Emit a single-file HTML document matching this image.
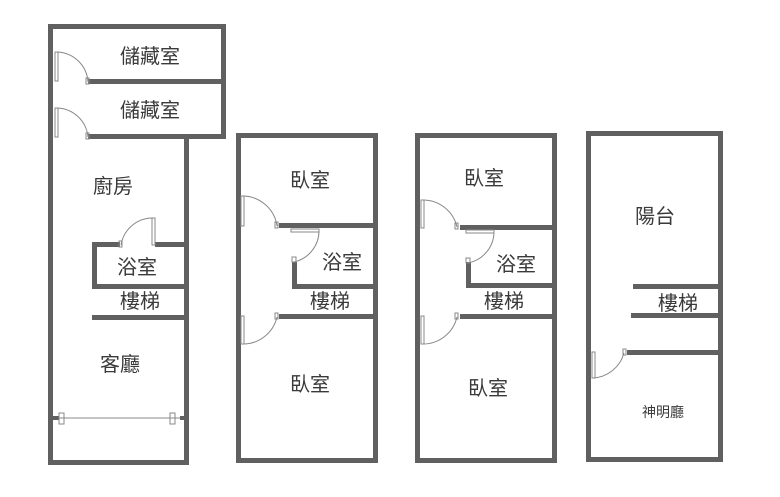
<!DOCTYPE html>
<html><head><meta charset="utf-8"><style>
html,body{margin:0;padding:0;background:#fff;}
svg{display:block}
text{font-family:"Liberation Sans","Noto Sans CJK TC",sans-serif;fill:#3a3a3a;}
</style></head><body>
<svg width="780" height="497" viewBox="0 0 780 497" xmlns="http://www.w3.org/2000/svg">
<g fill="#606060">
<rect x="48" y="24" width="178" height="5"/>
<rect x="48" y="24" width="5" height="441"/>
<rect x="221" y="24" width="5" height="115"/>
<rect x="88" y="79" width="138" height="5"/>
<rect x="88" y="134" width="138" height="5"/>
<rect x="184" y="134" width="5" height="331"/>
<rect x="48" y="460" width="141" height="5"/>
<rect x="92" y="242" width="28" height="5"/>
<rect x="155" y="242" width="34" height="5"/>
<rect x="92" y="242" width="5" height="47"/>
<rect x="92" y="284" width="97" height="5"/>
<rect x="92" y="315" width="97" height="5"/>
<rect x="53" y="416" width="6" height="4"/>
<rect x="180" y="416" width="6" height="4"/>
<rect x="236" y="133" width="142" height="5"/>
<rect x="236" y="133" width="5" height="330"/>
<rect x="373" y="133" width="5" height="330"/>
<rect x="236" y="458" width="142" height="5"/>
<rect x="279" y="223" width="99" height="5"/>
<rect x="292" y="262" width="5" height="27"/>
<rect x="292" y="284" width="86" height="5"/>
<rect x="279" y="314" width="99" height="5"/>
<rect x="415" y="133" width="142" height="5"/>
<rect x="415" y="133" width="5" height="330"/>
<rect x="552" y="133" width="5" height="330"/>
<rect x="415" y="458" width="142" height="5"/>
<rect x="460" y="225" width="97" height="5"/>
<rect x="466" y="262" width="5" height="24"/>
<rect x="466" y="283" width="91" height="5"/>
<rect x="460" y="314" width="97" height="5"/>
<rect x="586" y="131" width="137" height="5"/>
<rect x="586" y="131" width="5" height="331"/>
<rect x="718" y="131" width="5" height="331"/>
<rect x="586" y="457" width="137" height="5"/>
<rect x="633" y="284" width="88" height="5"/>
<rect x="631" y="313" width="90" height="5"/>
<rect x="627" y="350" width="94" height="5"/>
</g>
<g fill="none" stroke="#888" stroke-width="1">
<rect x="55" y="52" width="3" height="29"/><path d="M56 52 A32 32 0 0 1 88 82"/><rect x="86" y="78" width="3" height="6"/>
<rect x="55" y="108" width="3" height="29"/><path d="M56 108 A32 32 0 0 1 88 137"/><rect x="86" y="133" width="3" height="6"/>
<rect x="152" y="218" width="3" height="27"/><path d="M152 218 A32 32 0 0 0 121 245"/><rect x="119" y="241" width="3" height="6"/>
<line x1="59" y1="418" x2="180" y2="418"/>
<rect x="59" y="413" width="5" height="11"/><rect x="170" y="413" width="5" height="11"/>
<rect x="241" y="196" width="3" height="30"/><path d="M242 196 A35 35 0 0 1 277 226"/><rect x="275" y="222" width="3" height="6"/>
<rect x="291" y="229" width="28" height="3"/><path d="M319 230 A32 32 0 0 1 294 262"/><rect x="292" y="257" width="4" height="5"/>
<rect x="241" y="316" width="3" height="28"/><path d="M242 344 A35 35 0 0 0 277 317"/><rect x="275" y="313" width="3" height="6"/>
<rect x="421" y="200" width="3" height="28"/><path d="M422 200 A35 35 0 0 1 457 227"/><rect x="455" y="223" width="3" height="6"/>
<rect x="466" y="230" width="28" height="3"/><path d="M494 231 A32 32 0 0 1 468 263"/><rect x="466" y="258" width="4" height="5"/>
<rect x="421" y="316" width="3" height="28"/><path d="M422 344 A35 35 0 0 0 457 317"/><rect x="455" y="313" width="3" height="6"/>
<rect x="592" y="352" width="3" height="26"/><path d="M593 378 A34 34 0 0 0 624 353"/><rect x="623" y="349" width="3" height="6"/>
</g>
<g font-size="20" text-anchor="middle">
<text x="150" y="63">儲藏室</text>
<text x="150" y="117">儲藏室</text>
<text x="113" y="193">廚房</text>
<text x="137" y="274">浴室</text>
<text x="140" y="308">樓梯</text>
<text x="120" y="371">客廳</text>
<text x="310" y="187">臥室</text>
<text x="342" y="269">浴室</text>
<text x="330" y="308">樓梯</text>
<text x="310" y="391">臥室</text>
<text x="484" y="185">臥室</text>
<text x="516" y="271">浴室</text>
<text x="504" y="308">樓梯</text>
<text x="488" y="395">臥室</text>
<text x="655" y="223">陽台</text>
<text x="678" y="310">樓梯</text>
<text x="663" y="417" font-size="14">神明廳</text>
</g>
</svg>
</body></html>
